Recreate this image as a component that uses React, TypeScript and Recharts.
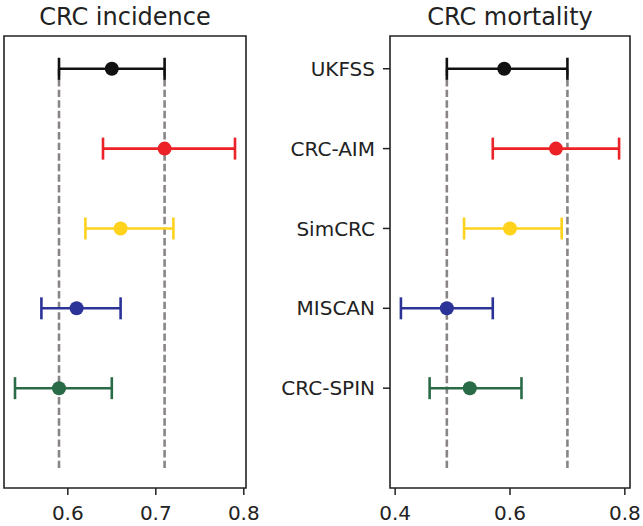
import React from "react";
import {
  ScatterChart,
  Scatter,
  XAxis,
  YAxis,
  ErrorBar,
  ReferenceLine,
  ReferenceArea,
} from "recharts";

// model names, top to bottom
const models = ["UKFSS", "CRC-AIM", "SimCRC", "MISCAN", "CRC-SPIN"];
const modelColors = ["#111111", "#ec2227", "#ffd21c", "#2b3398", "#2a6b47"];

// CRC incidence: point estimate and interval
const incidenceEst = [0.65, 0.71, 0.66, 0.61, 0.59];
const incidenceLow = [0.59, 0.64, 0.62, 0.57, 0.54];
const incidenceHigh = [0.71, 0.79, 0.72, 0.66, 0.65];
const incidenceRefs = [0.59, 0.71];
const incidenceTicks = [0.6, 0.7, 0.8];

// CRC mortality
const mortalityEst = [0.59, 0.68, 0.6, 0.49, 0.53];
const mortalityLow = [0.49, 0.57, 0.52, 0.41, 0.46];
const mortalityHigh = [0.7, 0.79, 0.69, 0.57, 0.62];
const mortalityRefs = [0.49, 0.7];
const mortalityTicks = [0.4, 0.6, 0.8];

const yDomain: [number, number] = [-1.25, 4.41];
const font = "'DejaVu Sans', sans-serif";
const tickStyle = { fontFamily: font, fontSize: 20, fill: "#222" };

const rowY = (i: number) => models.length - 1 - i;

function Panel(props: {
  est: number[];
  low: number[];
  high: number[];
  refs: number[];
  ticks: number[];
  xDomain: [number, number];
  width: number;
  margin: { top: number; right: number; left: number; bottom: number };
  showLabels: boolean;
}) {
  const { est, low, high, refs, ticks, xDomain, width, margin, showLabels } = props;
  return (
    <ScatterChart width={width} height={526} margin={margin}>
      <XAxis
        type="number"
        dataKey="x"
        domain={xDomain}
        ticks={ticks}
        allowDataOverflow
        axisLine={false}
        tickSize={7}
        tickMargin={11}
        tickLine={{ stroke: "#222", strokeWidth: 1.5 }}
        tick={tickStyle}
        height={38}
      />
      <YAxis
        type="number"
        dataKey="y"
        domain={yDomain}
        allowDataOverflow
        ticks={[0, 1, 2, 3, 4]}
        tickFormatter={(v: number) => models[models.length - 1 - v]}
        hide={!showLabels}
        width={140}
        axisLine={false}
        tickSize={7}
        tickMargin={8}
        tickLine={{ stroke: "#222", strokeWidth: 1.5 }}
        tick={tickStyle}
      />
      <ReferenceArea
        x1={xDomain[0]}
        x2={xDomain[1]}
        y1={yDomain[0]}
        y2={yDomain[1]}
        fill="none"
        stroke="#222"
        strokeWidth={1.6}
      />
      {refs.map((r) => (
        <ReferenceLine
          key={r}
          segment={[
            { x: r, y: -1 },
            { x: r, y: 4 },
          ]}
          stroke="#8a8585"
          strokeWidth={2.6}
          strokeDasharray="7.4 3.2"
        />
      ))}
      {models.map((m, i) => (
        <Scatter
          key={m}
          name={m}
          data={[{ x: est[i], y: rowY(i), err: [est[i] - low[i], high[i] - est[i]] }]}
          isAnimationActive={false}
          shape={(p: any) => <circle cx={p.cx} cy={p.cy} r={7} fill={modelColors[i]} />}
        >
          <ErrorBar
            dataKey="err"
            direction="x"
            width={11}
            strokeWidth={2.6}
            stroke={modelColors[i]}
          />
        </Scatter>
      ))}
    </ScatterChart>
  );
}

export default function App() {
  const titleStyle: React.CSSProperties = {
    position: "absolute",
    top: 0,
    fontFamily: font,
    fontSize: 24,
    color: "#222",
    textAlign: "center",
    lineHeight: "34px",
  };
  return (
    <div style={{ position: "absolute", left: 0, top: 0, width: 643, height: 526, background: "#fff" }}>
      <div style={{ ...titleStyle, left: 4, width: 242 }}>CRC incidence</div>
      <div style={{ ...titleStyle, left: 390, width: 240 }}>CRC mortality</div>
      <div style={{ position: "absolute", left: 0, top: 0 }}>
        <Panel
          est={incidenceEst}
          low={incidenceLow}
          high={incidenceHigh}
          refs={incidenceRefs}
          ticks={incidenceTicks}
          xDomain={[0.5275, 0.8025]}
          width={266}
          margin={{ top: 36, right: 20, left: 4, bottom: 0 }}
          showLabels={false}
        />
      </div>
      <div style={{ position: "absolute", left: 250, top: 0 }}>
        <Panel
          est={mortalityEst}
          low={mortalityLow}
          high={mortalityHigh}
          refs={mortalityRefs}
          ticks={mortalityTicks}
          xDomain={[0.391, 0.809]}
          width={393}
          margin={{ top: 36, right: 13, left: 0, bottom: 0 }}
          showLabels={true}
        />
      </div>
    </div>
  );
}
